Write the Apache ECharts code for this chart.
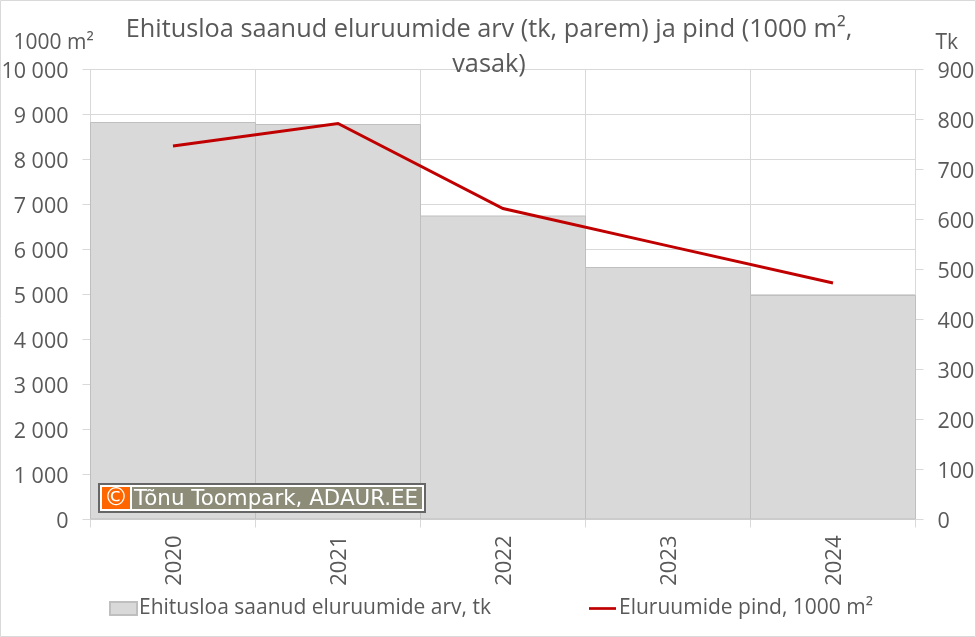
<!DOCTYPE html>
<html><head><meta charset="utf-8">
<style>html,body{margin:0;padding:0;background:#fff}#c{width:976px;height:637px;box-sizing:border-box}</style>
<script src="https://cdn.jsdelivr.net/npm/echarts@6/dist/echarts.min.js"></script></head>
<body><div id="c"></div>
<script>
const titleText = 'Ehitusloa saanud eluruumide arv (tk, parem) ja pind (1000 m²,\nvasak)';
const categories = ['2020','2021','2022','2023','2024'];
const barName = 'Ehitusloa saanud eluruumide arv, tk';
const lineName = 'Eluruumide pind, 1000 m²';
const permits = [795, 791, 608, 505, 449];
const area = [8300, 8800, 6910, 6080, 5255];
const FONT = '"Open Sans", "Noto Sans", sans-serif';
const TXT = '#595959', GRID = '#d9d9d9';
const chart = echarts.init(document.getElementById('c'), null, {renderer:'canvas'});
const fmt = v => '{a|' + String(v).replace(/\B(?=(\d{3})+$)/g, ' ') + '}';
const richY = {a:{color:TXT,fontFamily:FONT,fontSize:21.5,padding:[4,0,0,0]}};
const richX = {a:{color:TXT,fontFamily:FONT,fontSize:22,padding:[4,0,0,0]}};
chart.setOption({
  animation:false,
  backgroundColor:'#fff',
  title:{text:titleText,left:484,top:7,textAlign:'center',
    textStyle:{fontFamily:FONT,fontSize:25.3,fontWeight:'normal',color:TXT,lineHeight:35}},
  grid:{left:90.5,right:60.5,top:69.5,bottom:117.5,containLabel:false,outerBoundsMode:'none'},
  legend:[
    {data:[{name:barName,icon:'rect'}],left:104,top:593,itemWidth:27,itemHeight:13,itemGap:3,
     textStyle:{fontFamily:FONT,fontSize:21,color:TXT,padding:[0,0,0,-3]}},
    {data:[{name:lineName,icon:'path://M0 0H10V1H0Z'}],left:584,top:593,itemWidth:27,itemHeight:3,itemGap:3,
     textStyle:{fontFamily:FONT,fontSize:21,color:TXT,padding:[0,0,0,-2]}}
  ],
  xAxis:{type:'category',data:categories,boundaryGap:true,containShape:false,
    axisLine:{lineStyle:{color:GRID}},
    axisTick:{show:true,length:8,lineStyle:{color:GRID},alignWithLabel:false},
    splitLine:{show:true,lineStyle:{color:GRID,width:1}},
    axisLabel:{rotate:90,formatter:v=>'{a|'+v+'}',rich:richX,color:TXT,fontFamily:FONT,fontSize:22,margin:16}},
  yAxis:[
    {type:'value',min:0,max:10000,interval:1000,position:'left',
     name:'1000 m²',nameLocation:'end',nameGap:16,
     nameTextStyle:{fontFamily:FONT,fontSize:21,color:TXT,align:'left',padding:[0,0,0,-77]},
     axisLine:{show:true,lineStyle:{color:GRID}},
     axisTick:{show:true,length:8,lineStyle:{color:GRID}},
     splitLine:{show:true,lineStyle:{color:GRID,width:1}},
     axisLabel:{formatter:fmt,rich:richY,color:TXT,fontFamily:FONT,fontSize:21.5,margin:22}},
    {type:'value',min:0,max:900,interval:100,position:'right',
     name:'Tk',nameLocation:'end',nameGap:16,
     nameTextStyle:{fontFamily:FONT,fontSize:21,color:TXT,align:'left',padding:[0,0,0,20]},
     axisLine:{show:true,lineStyle:{color:GRID}},
     axisTick:{show:true,length:8,lineStyle:{color:GRID}},
     splitLine:{show:false},
     axisLabel:{formatter:fmt,rich:richY,color:TXT,fontFamily:FONT,fontSize:21.5,margin:22}}
  ],
  series:[
    {name:barName,type:'bar',yAxisIndex:1,data:permits,barWidth:166,barGap:'0%',
     itemStyle:{color:'#d9d9d9',borderColor:'#bfbfbf',borderWidth:1},z:2},
    {name:lineName,type:'line',yAxisIndex:0,data:area,showSymbol:false,symbol:'none',smooth:false,
     lineStyle:{color:'#c00000',width:3,cap:'butt',join:'miter'},itemStyle:{color:'#c00000'},z:3}
  ],
  graphic:[
    {type:'rect',z:100,silent:true,shape:{x:0.5,y:0.5,width:975,height:636},style:{fill:'none',stroke:'#d9d9d9',lineWidth:1}},
    {type:'rect',z:100,shape:{x:99,y:484,width:326,height:28},style:{fill:'#fff',stroke:'#666',lineWidth:2}},
    {type:'rect',z:101,shape:{x:102,y:487,width:28,height:22},style:{fill:'#ff6600'}},
    {type:'rect',z:101,shape:{x:132,y:487,width:290,height:22},style:{fill:'#8c8c78'}},
    {type:'text',z:102,style:{x:116,y:499,text:'©',fill:'#fff',font:'24px "DejaVu Sans"',align:'center',verticalAlign:'middle'}},
    {type:'text',z:102,style:{x:134,y:499,text:'Tõnu Toompark, ADAUR.EE',fill:'#fff',font:'21.4px "DejaVu Sans"',align:'left',verticalAlign:'middle'}}
  ]
});
</script></body></html>
